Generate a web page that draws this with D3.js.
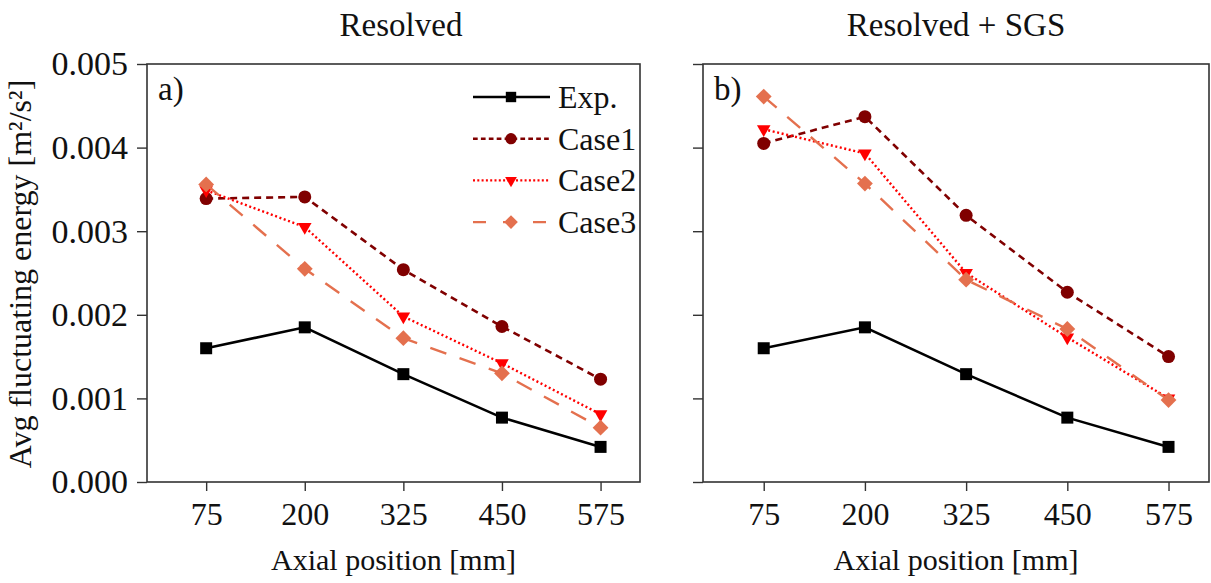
<!DOCTYPE html>
<html>
<head>
<meta charset="utf-8">
<script src="https://d3js.org/d3.v7.min.js"></script>
<style>
  body { margin: 0; background: #fff; }
  svg text { font-family: "Liberation Serif", "Times New Roman", serif; fill: #111; }
</style>
</head>
<body>
<div id="chart"></div>
<script>
  // values (axial position in mm, energy in m²/s²)
  const positions = [75, 200, 325, 450, 575];
  const expData = [0.00160, 0.00185, 0.00129, 0.00077, 0.00042];

  const resolvedCase1 = [0.00339, 0.00341, 0.00254, 0.00186, 0.00123];
  const resolvedCase2 = [0.00349, 0.00305, 0.00198, 0.00142, 0.00081];
  const resolvedCase3 = [0.00356, 0.00255, 0.00172, 0.00130, 0.00065];

  const sgsCase1 = [0.00405, 0.00437, 0.00319, 0.00227, 0.00150];
  const sgsCase2 = [0.00422, 0.00393, 0.00250, 0.00173, 0.00100];
  const sgsCase3 = [0.00461, 0.00357, 0.00242, 0.00183, 0.00098];

  const seriesNames = ["Exp.", "Case1", "Case2", "Case3"];
  const yTicks = [0, 0.001, 0.002, 0.003, 0.004, 0.005];

  // styling per series
  const styles = {
    "Exp.":  { color: "#000000", dash: null,    legendDash: null,      width: 2.6, symbol: d3.symbolSquare,   size: 144, rotate: 0 },
    "Case1": { color: "#800000", dash: "7,5",   legendDash: "4.7,3.2", width: 2.6, symbol: d3.symbolCircle,   size: 133, rotate: 0 },
    "Case2": { color: "#ff0000", dash: "2,2.6", legendDash: "2,2.3",   width: 2.4, symbol: d3.symbolTriangle, size: 80,  rotate: 180 },
    "Case3": { color: "#e4704e", dash: "17,14", legendDash: "13,17",   width: 2.4, symbol: d3.symbolSquare,   size: 125, rotate: 45 }
  };

  const panels = [
    { title: "Resolved", titleX: 401, tag: "a)", x0: 147, x1: 640, yLabels: true, legend: true,
      series: [expData, resolvedCase1, resolvedCase2, resolvedCase3] },
    { title: "Resolved + SGS", titleX: 956, tag: "b)", x0: 703, x1: 1209, yLabels: false, legend: false,
      series: [expData, sgsCase1, sgsCase2, sgsCase3] }
  ];

  const width = 1211, height = 583;
  const plotTop = 64, plotBottom = 482;

  const svg = d3.select("#chart").append("svg")
    .attr("width", width).attr("height", height);

  const y = d3.scaleLinear().domain([0, 0.005]).range([plotBottom, plotTop]);

  panels.forEach(p => {
    const x = d3.scaleLinear().domain([0, 625]).range([p.x0, p.x1]);
    const g = svg.append("g");

    // frame
    g.append("rect")
      .attr("x", p.x0).attr("y", plotTop)
      .attr("width", p.x1 - p.x0).attr("height", plotBottom - plotTop)
      .attr("fill", "none").attr("stroke", "#333").attr("stroke-width", 1.6);

    // x axis
    const xAxis = g.append("g")
      .attr("transform", `translate(0,${plotBottom})`)
      .call(d3.axisBottom(x).tickValues(positions).tickSize(9).tickPadding(11));
    xAxis.select(".domain").remove();
    xAxis.selectAll("line").attr("stroke", "#333").attr("stroke-width", 1.4);
    xAxis.selectAll("text").style("font-size", "32px").attr("fill", "#111");

    // y axis
    const yAxis = g.append("g")
      .attr("transform", `translate(${p.x0},0)`)
      .call(d3.axisLeft(y).tickValues(yTicks).tickFormat(d3.format(".3f")).tickSize(10).tickPadding(9));
    yAxis.select(".domain").remove();
    yAxis.selectAll("line").attr("stroke", "#333").attr("stroke-width", 1.4);
    yAxis.selectAll("text").style("font-size", "34px").attr("fill", "#111");
    if (!p.yLabels) yAxis.selectAll("text").remove();

    // titles
    g.append("text").attr("x", p.titleX).attr("y", 36)
      .attr("text-anchor", "middle").style("font-size", "33px").text(p.title);
    g.append("text").attr("x", (p.x0 + p.x1) / 2).attr("y", 570)
      .attr("text-anchor", "middle").style("font-size", "30px").text("Axial position [mm]");
    g.append("text").attr("x", p.x0 + 11).attr("y", 100)
      .style("font-size", "33px").text(p.tag);

    // series
    p.series.forEach((vals, i) => {
      const st = styles[seriesNames[i]];
      const pts = positions.map((pos, k) => [x(pos), y(vals[k])]);
      g.append("path")
        .attr("d", d3.line()(pts))
        .attr("fill", "none")
        .attr("stroke", st.color)
        .attr("stroke-width", st.width)
        .attr("stroke-dasharray", st.dash);
      g.selectAll(null).data(pts).enter().append("path")
        .attr("d", d3.symbol(st.symbol, st.size))
        .attr("transform", d => `translate(${d[0]},${d[1]}) rotate(${st.rotate})`)
        .attr("fill", st.color);
    });

    // legend
    if (p.legend) {
      const lg = g.append("g");
      seriesNames.forEach((name, i) => {
        const st = styles[name];
        const ly = 97 + i * 41.7;
        lg.append("line")
          .attr("x1", 473).attr("x2", 550).attr("y1", ly).attr("y2", ly)
          .attr("stroke", st.color).attr("stroke-width", st.width)
          .attr("stroke-dasharray", st.legendDash);
        lg.append("path")
          .attr("d", d3.symbol(st.symbol, st.size * 0.75))
          .attr("transform", `translate(511,${ly}) rotate(${st.rotate})`)
          .attr("fill", st.color);
        lg.append("text").attr("x", 558).attr("y", ly).attr("dy", "0.34em")
          .style("font-size", "32px").text(name);
      });
    }
  });

  // y axis title
  svg.append("text")
    .attr("transform", `translate(31,${(plotTop + plotBottom) / 2 + 1}) rotate(-90)`)
    .attr("text-anchor", "middle")
    .style("font-size", "32px")
    .text("Avg fluctuating energy [m²/s²]");
</script>
</body>
</html>
